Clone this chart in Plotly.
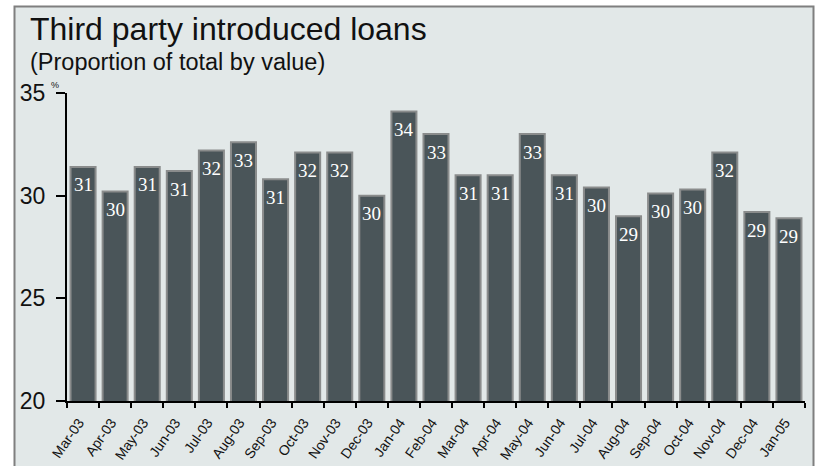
import plotly.graph_objects as go

# Monthly share of third party introduced loans, % of total by value
months = ["Mar-03", "Apr-03", "May-03", "Jun-03", "Jul-03", "Aug-03", "Sep-03",
          "Oct-03", "Nov-03", "Dec-03", "Jan-04", "Feb-04", "Mar-04", "Apr-04",
          "May-04", "Jun-04", "Jul-04", "Aug-04", "Sep-04", "Oct-04", "Nov-04",
          "Dec-04", "Jan-05"]
share = [31.4, 30.2, 31.4, 31.2, 32.2, 32.6, 30.8, 32.1, 32.1, 30.0, 34.1, 33.0,
         31.0, 31.0, 33.0, 31.0, 30.4, 29.0, 30.1, 30.3, 32.1, 29.2, 28.9]
y_ticks = [20, 25, 30, 35]

BG = "#e2e8e8"
BAR = "#4a5559"
EDGE = "#8a8c8c"

fig = go.Figure()
fig.add_trace(go.Bar(
    x=months, y=share,
    marker=dict(color=BAR, line=dict(color=EDGE, width=2)),
    hoverinfo="skip",
))

# value labels inside the top of each bar
for m, v in zip(months, share):
    fig.add_annotation(
        x=m, y=v, xref="x", yref="y", text=f"{v:.0f}", showarrow=False,
        yanchor="middle", yshift=-18,
        font=dict(family="Liberation Serif", size=19, color="white"),
    )

# L, R, T, B margins in pixels
L, R, T, B = 67, 12, 93, 65
W, H = 817, 466
pw, ph = W - L - R, H - T - B

def px(xp):
    return (xp - L) / pw

def py(yp):
    return (H - B - yp) / ph

# framed light panel behind everything
fig.add_shape(type="rect", xref="paper", yref="paper",
              x0=px(14.5), x1=px(813.5), y0=py(480), y1=py(6.5),
              fillcolor=BG, line=dict(color="#7f7f7f", width=2), layer="below")

fig.add_annotation(x=px(28), y=py(29), xref="paper", yref="paper",
                   text="Third party introduced loans", showarrow=False,
                   xanchor="left", yanchor="middle",
                   font=dict(family="Liberation Sans", size=32, color="#111111"))
fig.add_annotation(x=px(28), y=py(62), xref="paper", yref="paper",
                   text="(Proportion of total by value)", showarrow=False,
                   xanchor="left", yanchor="middle",
                   font=dict(family="Liberation Sans", size=23.5, color="#111111"))
fig.add_annotation(x=px(49), y=py(85), xref="paper", yref="paper",
                   text="%", showarrow=False, xanchor="left", yanchor="middle",
                   font=dict(family="Liberation Sans", size=9, color="#111111"))

fig.update_layout(
    width=W, height=H,
    margin=dict(l=L, r=R, t=T, b=B, pad=0, autoexpand=False),
    paper_bgcolor="white",
    plot_bgcolor=BG,
    bargap=0.22,
    showlegend=False,
    xaxis=dict(
        type="category", tickson="boundaries", ticks="outside", ticklen=5,
        tickwidth=2, tickcolor="black", showline=True, linecolor="black",
        linewidth=2, showgrid=False, tickangle=-55, ticklabelstandoff=6,
        ticklabelshift=-4, automargin=False,
        tickfont=dict(family="Liberation Sans", size=14, color="#111111"),
    ),
    yaxis=dict(
        range=[20, 35], tickvals=y_ticks, ticks="outside", ticklen=9,
        tickwidth=2, tickcolor="black", showline=True, linecolor="black",
        linewidth=2, showgrid=False, zeroline=False, ticklabelstandoff=6,
        automargin=False,
        tickfont=dict(family="Liberation Sans", size=23, color="#111111"),
    ),
)

fig.write_html("out.html")
